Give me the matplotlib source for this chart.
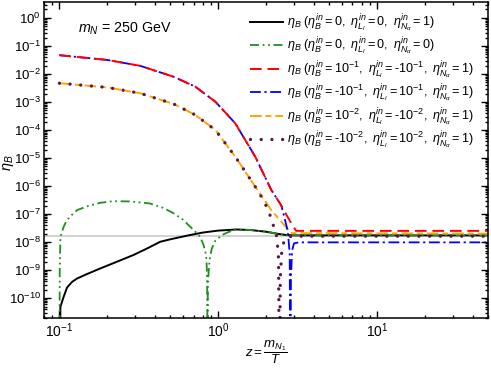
import numpy as np
import matplotlib
matplotlib.use("Agg")
import matplotlib.pyplot as plt
from matplotlib.ticker import LogLocator, NullFormatter

plt.rcParams['font.family'] = ['Liberation Sans', 'DejaVu Sans']
plt.rcParams['mathtext.fontset'] = 'custom'
plt.rcParams['mathtext.rm'] = 'Liberation Sans'
plt.rcParams['mathtext.it'] = 'Liberation Sans:italic'
plt.rcParams['mathtext.bf'] = 'Liberation Sans:bold'
plt.rcParams['axes.unicode_minus'] = False

# curves: z values and log10(eta_B); -14 marks a zero / sign change
z_black = [0.1, 0.1015, 0.1064, 0.1118, 0.1202, 0.1292, 0.1494, 0.1811, 0.2307, 0.293, 0.356, 0.431,
           0.5, 0.65, 0.8, 1.0, 1.3, 1.6, 2.0, 2.4, 2.7, 3.0, 50]
log_black = [-14, -10.31, -9.95, -9.62, -9.42, -9.30, -9.14, -8.94, -8.70, -8.46, -8.23, -7.99,
             -7.90, -7.76, -7.66, -7.59, -7.55, -7.57, -7.63, -7.71, -7.75, -7.76, -7.76]

z_green = [0.1, 0.1005, 0.1015, 0.1064, 0.1118, 0.1202, 0.1292, 0.15, 0.18, 0.218, 0.28, 0.37, 0.45, 0.52,
           0.6, 0.70, 0.77, 0.809, 0.83, 0.843, 0.85, 0.854, 0.856, 0.86, 0.868, 0.877, 0.889, 0.912,
           0.96, 1.055, 1.15, 1.25, 1.3, 1.6, 2.0, 2.4, 2.7, 3.0, 50]
log_green = [-14, -9.0, -7.81, -7.45, -7.21, -7.02, -6.86, -6.72, -6.6, -6.54, -6.55, -6.62, -6.78, -6.96,
             -7.2, -7.57, -7.81, -8.11, -8.35, -8.6, -9.1, -9.9, -14, -9.6, -9.18, -8.82, -8.52, -8.23,
             -7.95, -7.75, -7.65, -7.58, -7.55, -7.57, -7.63, -7.71, -7.75, -7.76, -7.76]

z_red = [0.1, 0.2, 0.323, 0.524, 0.716, 0.96, 1.28, 1.71, 2.16, 2.45, 2.66, 2.97, 3.1, 50]
log_red = [-1.33, -1.5, -1.71, -2.10, -2.45, -2.99, -3.76, -4.95, -6.14, -6.62, -6.98, -7.45, -7.6, -7.6]

z_blue = [0.1, 0.2, 0.323, 0.524, 0.716, 0.96, 1.28, 1.71, 2.16, 2.5, 2.7, 2.75, 2.82, 2.85, 2.87, 2.92, 3.0, 3.2, 50]
log_blue = [-1.33, -1.5, -1.71, -2.10, -2.45, -2.99, -3.76, -4.95, -6.14, -6.7, -7.45, -7.69, -8.4, -14, -9.3, -8.3, -8.05, -8.01, -8.01]

z_orange = [0.1, 0.2, 0.323, 0.524, 0.716, 0.96, 1.28, 1.71, 2.16, 2.66, 2.9, 50]
log_orange = [-2.33, -2.48, -2.69, -3.07, -3.46, -4.0, -4.95, -6.02, -6.86, -7.45, -7.68, -7.70]

z_purple = [0.1, 0.2, 0.323, 0.524, 0.716, 0.96, 1.28, 1.71, 1.95, 2.12, 2.22, 2.34, 2.40, 2.43, 2.46, 2.52, 2.65, 2.9, 50]
log_purple = [-2.33, -2.48, -2.69, -3.07, -3.46, -4.0, -4.95, -6.02, -6.55, -7.04, -7.39, -7.81, -8.6, -14, -9.3, -8.2, -7.85, -7.79, -7.79]

eta_obs = 1.7e-8

labels = [
    r'$\eta_B\ (\eta_B^{in}=0,\ \eta_{L_l}^{in}=0,\ \eta_{N_\alpha}^{in}=1)$',
    r'$\eta_B\ (\eta_B^{in}=0,\ \eta_{L_l}^{in}=0,\ \eta_{N_\alpha}^{in}=0)$',
    r'$\eta_B\ (\eta_B^{in}=10^{-1},\ \eta_{L_l}^{in}=$-$10^{-1},\ \eta_{N_\alpha}^{in}=1)$',
    r'$\eta_B\ (\eta_B^{in}=$-$10^{-1},\ \eta_{L_l}^{in}=10^{-1},\ \eta_{N_\alpha}^{in}=1)$',
    r'$\eta_B\ (\eta_B^{in}=10^{-2},\ \eta_{L_l}^{in}=$-$10^{-2},\ \eta_{N_\alpha}^{in}=1)$',
    r'$\eta_B\ (\eta_B^{in}=$-$10^{-2},\ \eta_{L_l}^{in}=10^{-2},\ \eta_{N_\alpha}^{in}=1)$',
]

fig = plt.figure(figsize=(4.91, 3.70), dpi=100)
ax = fig.add_axes([0.0896, 0.1405, 0.9043, 0.8541])

ax.axhline(eta_obs, color='#d3d3d3', lw=1.5, zorder=1)

ax.plot(z_black, 10**np.array(log_black), color='black', lw=1.4, label=labels[0])
ax.plot(z_green, 10**np.array(log_green), color='#1f8f1f', lw=1.3, dashes=[5, 2, 1, 2, 1, 2], label=labels[1])
ax.plot(z_blue, 10**np.array(log_blue), color='blue', lw=1.3, dashes=[6, 2, 1.2, 2], label=labels[3], zorder=2.4)
ax.plot(z_red, 10**np.array(log_red), color='red', lw=1.4, dashes=[6, 3], label=labels[2], zorder=2.5)
ax.plot(z_orange, 10**np.array(log_orange), color='#ffa500', lw=1.4, dashes=[6, 2, 3, 2], label=labels[4])
ax.plot(z_purple, 10**np.array(log_purple), color='#5a1846', lw=2.4, dashes=[0.01, 3.2],
        dash_capstyle='round', label=labels[5])

ax.set_xscale('log')
ax.set_yscale('log')
ax.set_xlim(0.08, 50)
ax.set_ylim(1.95e-11, 3.7)

ax.yaxis.set_major_locator(LogLocator(base=10, numticks=20))
ax.yaxis.set_minor_locator(LogLocator(base=10, subs=np.arange(2, 10), numticks=20))
ax.yaxis.set_minor_formatter(NullFormatter())
ax.xaxis.set_minor_formatter(NullFormatter())
ax.tick_params(which='both', direction='in', top=True, right=True, labelsize=10, width=1.0, pad=2.5)
ax.tick_params(axis='y', labelsize=9.5, pad=2.2)
ax.tick_params(which='major', length=5)
ax.tick_params(which='minor', length=2.5)
for s in ax.spines.values():
    s.set_linewidth(1.1)

ax.set_ylabel(r'$\eta_B$', fontsize=10.5)
ax.yaxis.set_label_coords(-0.08, 0.49)
ax.yaxis.label.set_va('center')
ax.set_xlabel(r'$z=\dfrac{m_{N_1}}{T}$', fontsize=9.5)
ax.xaxis.set_label_coords(0.5, -0.108)
ax.xaxis.label.set_va('center')

ax.text(0.077, 0.915, r'$m_N$ = 250 GeV', transform=ax.transAxes, fontsize=10.3, va='center')

handles, labs = ax.get_legend_handles_labels()
order = [0, 1, 3, 2, 4, 5]
ax.legend([handles[i] for i in order], [labs[i] for i in order], loc='upper left',
          bbox_to_anchor=(0.464, 0.967), frameon=False, fontsize=9.1, borderpad=0, borderaxespad=0,
          handlelength=2.6, handletextpad=0.35, labelspacing=0.15)

fig.savefig('out.png', dpi=100)
